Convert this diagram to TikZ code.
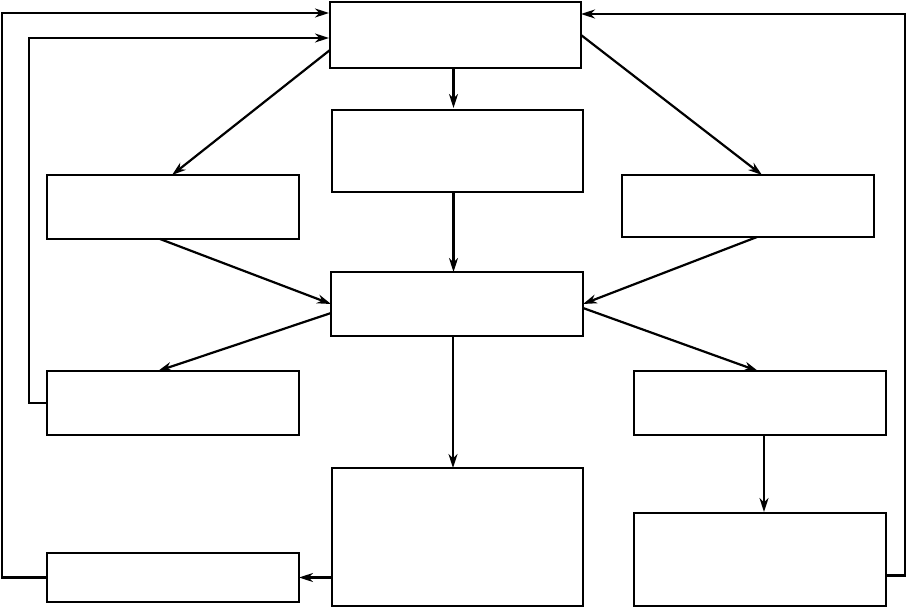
\documentclass[tikz,border=0pt]{standalone}
\usetikzlibrary{arrows.meta}
\tikzset{
  box/.style={draw, line width=2.6pt, rectangle, inner sep=0pt, outer sep=0pt},
  conn/.style={line width=2.2pt, -{Stealth[length=14pt,width=9pt,inset=4.5pt]}},
}
\begin{document}
\begin{tikzpicture}[x=1pt,y=-1pt]
\useasboundingbox (0,0) rectangle (907,609);
\node[box, minimum width=251pt, minimum height=66pt] (top) at (455.5,35) {};
\node[box, minimum width=251pt, minimum height=82pt] (b2) at (457.5,151) {};
\node[box, minimum width=252pt, minimum height=64pt] (l1) at (173,207) {};
\node[box, minimum width=252pt, minimum height=62pt] (r1) at (748,206) {};
\node[box, minimum width=252pt, minimum height=64pt] (c) at (457,304) {};
\node[box, minimum width=252pt, minimum height=64pt] (l2) at (173,403) {};
\node[box, minimum width=252pt, minimum height=64pt] (r2) at (760,403) {};
\node[box, minimum width=251pt, minimum height=138pt] (bc) at (457.5,537) {};
\node[box, minimum width=252pt, minimum height=93pt] (br) at (760,559.5) {};
\node[box, minimum width=252pt, minimum height=49pt] (bl) at (173,577.5) {};

\draw[conn] ([xshift=-2pt]top.south) -- ([xshift=-2pt,yshift=2pt]top.south |- b2.north);
\draw[conn] ([yshift=-15pt]top.west) -- ([xshift=-1pt]l1.north);
\draw[conn] (top.east) -- ([xshift=14pt]r1.north);
\draw[conn] ([xshift=-4pt]b2.south) -- ([xshift=-4pt]b2.south |- c.north);
\draw[conn] ([xshift=-13pt]l1.south) -- (c.west);
\draw[conn] ([xshift=9pt]r1.south) -- (c.east);
\draw[conn] ([yshift=-9pt]c.west) -- ([xshift=-15pt]l2.north);
\draw[conn] ([yshift=-4pt]c.east) -- ([xshift=-2pt]r2.north);
\draw[conn] ([xshift=-4pt]c.south) -- ([xshift=-4pt]c.south |- bc.north);
\draw[conn] ([xshift=4pt]r2.south) -- ([xshift=4pt,yshift=1pt]r2.south |- br.north);
\draw[conn] (bc.west |- bl.east) -- (bl.east);
\draw[conn] (bl.west) -- ++(-45,0) |- ([xshift=-1pt,yshift=22pt]top.west);
\draw[conn] (l2.west) -- ++(-18,0) |- ([xshift=-1pt,yshift=-3pt]top.west);
\draw[conn] ([yshift=-16pt]br.east) -- ++(19,0) |- ([yshift=21pt]top.east);
\end{tikzpicture}
\end{document}
